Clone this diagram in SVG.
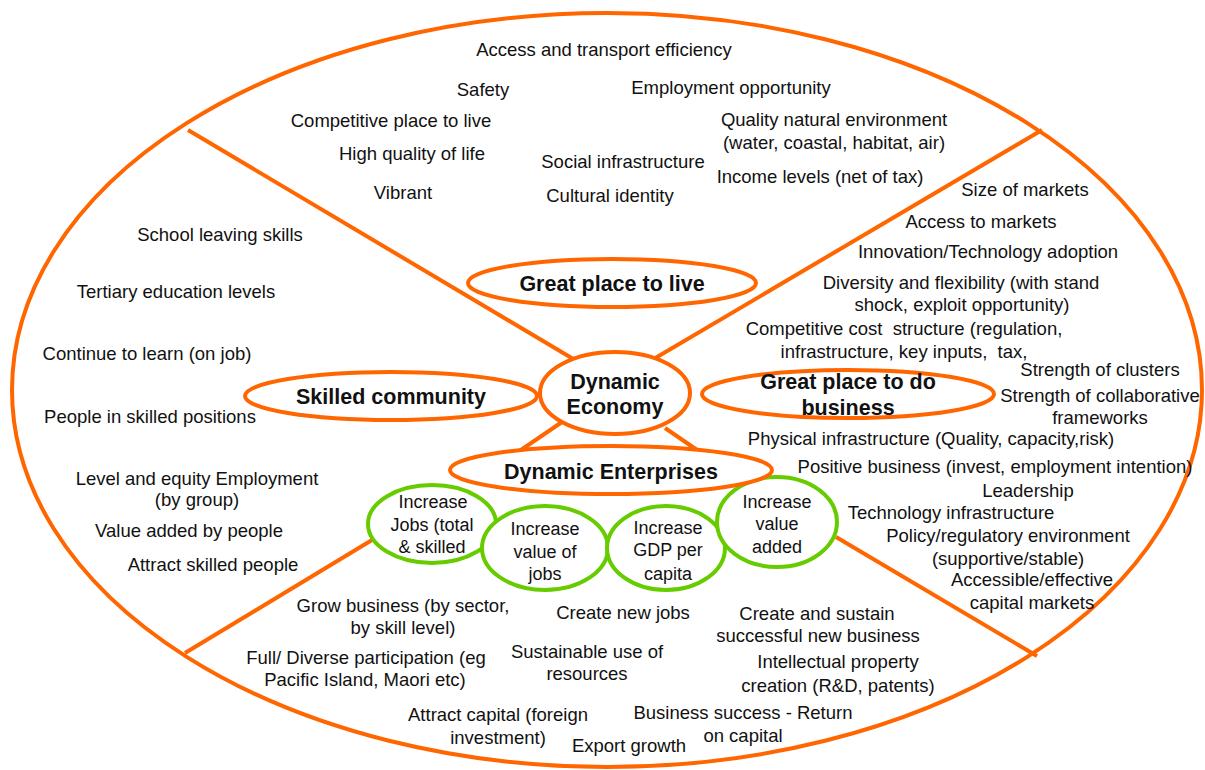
<svg xmlns="http://www.w3.org/2000/svg" width="1205" height="770" viewBox="0 0 1205 770">
  <style>
    .frame { fill: none; stroke: #ff6600; stroke-width: 4; }
    .link { stroke: #ff6600; stroke-width: 4; fill: none; }
    .hub { fill: #ffffff; stroke: #ff6600; stroke-width: 4; }
    .goal { fill: #ffffff; stroke: #66cc00; stroke-width: 4; }
    text { font-family: "Liberation Sans", Arial, sans-serif; fill: #111111; text-anchor: middle; }
    .t { font-size: 18.5px; }
    .g { font-size: 18px; }
    .h { font-size: 21.5px; font-weight: bold; }
  </style>

  <rect width="1205" height="770" fill="#ffffff"/>

  <!-- outer boundary -->
  <ellipse class="frame" cx="607" cy="390" rx="595" ry="377"/>

  <!-- connectors -->
  <g id="connectors">
    <line class="link" x1="188" y1="130" x2="575" y2="360"/>
    <line class="link" x1="1042" y1="130" x2="652" y2="360"/>
    <line class="link" x1="562" y1="422" x2="518" y2="452"/>
    <line class="link" x1="665" y1="428" x2="700" y2="452"/>
    <line class="link" x1="185" y1="653" x2="372" y2="540"/>
    <line class="link" x1="836" y1="537" x2="1037" y2="656"/>
  </g>

  <!-- sector: great place to live -->
  <g id="live-factors" class="t">
    <text x="604" y="56">Access and transport efficiency</text>
    <text x="483" y="96">Safety</text>
    <text x="731" y="94">Employment opportunity</text>
    <text x="391" y="127">Competitive place to live</text>
    <text x="834" y="126">Quality natural environment</text>
    <text x="834" y="149">(water, coastal, habitat, air)</text>
    <text x="412" y="160">High quality of life</text>
    <text x="623" y="168">Social infrastructure</text>
    <text x="820" y="183">Income levels (net of tax)</text>
    <text x="403" y="199">Vibrant</text>
    <text x="610" y="202">Cultural identity</text>
  </g>

  <!-- sector: great place to do business -->
  <g id="business-factors" class="t">
    <text x="1025" y="196">Size of markets</text>
    <text x="981" y="228">Access to markets</text>
    <text x="988" y="258">Innovation/Technology adoption</text>
    <text x="961" y="289">Diversity and flexibility (with stand</text>
    <text x="962" y="311">shock, exploit opportunity)</text>
    <text x="904" y="335" xml:space="preserve">Competitive cost  structure (regulation,</text>
    <text x="904" y="358" xml:space="preserve">infrastructure, key inputs,  tax,</text>
    <text x="1100" y="376">Strength of clusters</text>
    <text x="1100" y="402">Strength of collaborative</text>
    <text x="1100" y="424">frameworks</text>
    <text x="931" y="445">Physical infrastructure (Quality, capacity,risk)</text>
    <text x="995" y="473">Positive business (invest, employment intention)</text>
    <text x="1028" y="497">Leadership</text>
    <text x="951" y="519">Technology infrastructure</text>
    <text x="1008" y="542">Policy/regulatory environment</text>
    <text x="1008" y="565">(supportive/stable)</text>
    <text x="1032" y="586">Accessible/effective</text>
    <text x="1032" y="609">capital markets</text>
  </g>

  <!-- sector: dynamic enterprises -->
  <g id="enterprise-factors" class="t">
    <text x="403" y="612">Grow business (by sector,</text>
    <text x="403" y="634">by skill level)</text>
    <text x="623" y="619">Create new jobs</text>
    <text x="817" y="620">Create and sustain</text>
    <text x="818" y="642">successful new business</text>
    <text x="587" y="658">Sustainable use of</text>
    <text x="587" y="680">resources</text>
    <text x="366" y="664">Full/ Diverse participation (eg</text>
    <text x="365" y="686">Pacific Island, Maori etc)</text>
    <text x="838" y="668">Intellectual property</text>
    <text x="838" y="692">creation (R&amp;D, patents)</text>
    <text x="498" y="721">Attract capital (foreign</text>
    <text x="498" y="744">investment)</text>
    <text x="743" y="719">Business success - Return</text>
    <text x="743" y="742">on capital</text>
    <text x="629" y="752">Export growth</text>
  </g>

  <!-- sector: skilled community -->
  <g id="skills-factors" class="t">
    <text x="220" y="241">School leaving skills</text>
    <text x="176" y="298">Tertiary education levels</text>
    <text x="147" y="360">Continue to learn (on job)</text>
    <text x="150" y="423">People in skilled positions</text>
    <text x="197" y="485">Level and equity Employment</text>
    <text x="197" y="506">(by group)</text>
    <text x="189" y="537">Value added by people</text>
    <text x="213" y="571">Attract skilled people</text>
  </g>

  <!-- hub nodes -->
  <g id="great-place-to-live">
    <ellipse class="hub" cx="612" cy="283" rx="144" ry="24"/>
    <text class="h" x="612" y="291">Great place to live</text>
  </g>

  <g id="dynamic-economy">
    <ellipse class="hub" cx="615" cy="393" rx="75" ry="41"/>
    <text class="h" x="615" y="389">Dynamic</text>
    <text class="h" x="615" y="414">Economy</text>
  </g>

  <g id="skilled-community">
    <ellipse class="hub" cx="391" cy="396" rx="146" ry="24"/>
    <text class="h" x="391" y="404">Skilled community</text>
  </g>

  <g id="great-place-to-do-business">
    <ellipse class="hub" cx="848" cy="394" rx="146" ry="24"/>
    <text class="h" x="848" y="389">Great place to do</text>
    <text class="h" x="848" y="415">business</text>
  </g>

  <!-- goal nodes -->
  <g id="increase-jobs">
    <ellipse class="goal" cx="432" cy="524" rx="64" ry="39"/>
    <text class="g" x="433" y="508">Increase</text>
    <text class="g" x="432" y="531">Jobs (total</text>
    <text class="g" x="432" y="553">&amp; skilled</text>
  </g>

  <g id="increase-value-of-jobs">
    <ellipse class="goal" cx="545" cy="548" rx="63" ry="42"/>
    <text class="g" x="545" y="535">Increase</text>
    <text class="g" x="545" y="558">value of</text>
    <text class="g" x="545" y="580">jobs</text>
  </g>

  <g id="increase-gdp">
    <ellipse class="goal" cx="666" cy="548" rx="59" ry="42"/>
    <text class="g" x="668" y="534">Increase</text>
    <text class="g" x="668" y="556">GDP per</text>
    <text class="g" x="668" y="580">capita</text>
  </g>

  <g id="increase-value-added">
    <ellipse class="goal" cx="777" cy="522" rx="60" ry="45"/>
    <text class="g" x="777" y="508">Increase</text>
    <text class="g" x="777" y="530">value</text>
    <text class="g" x="777" y="553">added</text>
  </g>

  <g id="dynamic-enterprises">
    <ellipse class="hub" cx="611" cy="470" rx="161" ry="24"/>
    <text class="h" x="611" y="479">Dynamic Enterprises</text>
  </g>
</svg>
